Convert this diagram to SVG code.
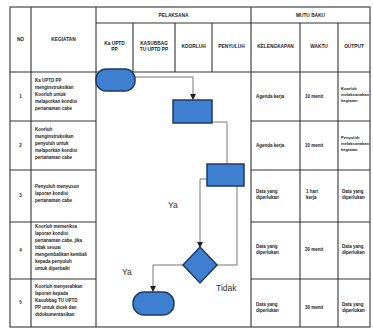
<svg xmlns="http://www.w3.org/2000/svg" width="373" height="329" viewBox="0 0 373 329">
<style>
.grid{stroke:#333;stroke-width:1.1;fill:none}
.h{font-family:"Liberation Sans",Arial,sans-serif;font-size:4.8px;font-weight:bold;fill:#222;text-anchor:middle}
.t{font-family:"Liberation Sans",Arial,sans-serif;font-size:4.5px;font-weight:bold;fill:#222}
.c{text-anchor:middle}
.o{font-size:4.1px}
.lbl{font-family:"Liberation Sans",Arial,sans-serif;font-size:8.5px;fill:#333}
.shape{fill:#3f7fcf;stroke:#1e3a66;stroke-width:1.5}
.conn{stroke:#777;stroke-width:1;fill:none}
</style>
<defs>
<marker id="arr" markerWidth="6" markerHeight="6" refX="5" refY="3" orient="auto" markerUnits="userSpaceOnUse">
<path d="M0,0 L6,3 L0,6 Z" fill="#222"/>
</marker>
</defs>
<rect width="373" height="329" fill="#fff"/>
<g id="table">
<rect class="grid" x="10" y="7" width="360" height="320" stroke-width="1.4"/>
<line class="grid" x1="31" y1="7" x2="31" y2="327"/>
<line class="grid" x1="96" y1="7" x2="96" y2="327"/>
<line class="grid" x1="251" y1="7" x2="251" y2="327"/>
<line class="grid" x1="300" y1="23" x2="300" y2="327"/>
<line class="grid" x1="338" y1="23" x2="338" y2="327"/>
<line class="grid" x1="133" y1="23" x2="133" y2="72"/>
<line class="grid" x1="175" y1="23" x2="175" y2="72"/>
<line class="grid" x1="212" y1="23" x2="212" y2="72"/>
<line class="grid" x1="96" y1="23" x2="370" y2="23"/>
<line class="grid" x1="10" y1="72" x2="370" y2="72"/>
<line class="grid" x1="10" y1="121" x2="96" y2="121"/>
<line class="grid" x1="251" y1="121" x2="370" y2="121"/>
<line class="grid" x1="10" y1="170" x2="96" y2="170"/>
<line class="grid" x1="251" y1="170" x2="370" y2="170"/>
<line class="grid" x1="10" y1="222" x2="96" y2="222"/>
<line class="grid" x1="251" y1="222" x2="370" y2="222"/>
<line class="grid" x1="10" y1="279" x2="96" y2="279"/>
<line class="grid" x1="251" y1="279" x2="370" y2="279"/>
<text class="h" x="20.5" y="41">NO</text>
<text class="h" x="63.5" y="41">KEGIATAN</text>
<text class="h" x="173.5" y="17">PELAKSANA</text>
<text class="h" x="310.5" y="17">MUTU BAKU</text>
<text class="h" x="114.5" y="45">Ka UPTD</text>
<text class="h" x="114.5" y="51">PP</text>
<text class="h" x="154" y="45">KASUBBAG</text>
<text class="h" x="154" y="51">TU UPTD PP</text>
<text class="h" x="193.5" y="48">KOORLUH</text>
<text class="h" x="231.5" y="48">PENYULUH</text>
<text class="h" x="275.5" y="48">KELENGKAPAN</text>
<text class="h" x="319" y="48">WAKTU</text>
<text class="h" x="354" y="48">OUTPUT</text>
<g class="t">
<text class="c" x="20.5" y="98">1</text>
<text class="c" x="20.5" y="147">2</text>
<text class="c" x="20.5" y="197">3</text>
<text class="c" x="20.5" y="252">4</text>
<text class="c" x="20.5" y="304">5</text>
<text x="35" y="82">Ka UPTD PP</text>
<text x="35" y="89">menginstruksikan</text>
<text x="35" y="96">Koorluh untuk</text>
<text x="35" y="103">melaporkan kondisi</text>
<text x="35" y="110">pertanaman cabe</text>
<text x="35" y="131">Koorluh</text>
<text x="35" y="138">menginstruksikan</text>
<text x="35" y="145">penyuluh untuk</text>
<text x="35" y="152">melaporkan kondisi</text>
<text x="35" y="159">pertanaman cabe</text>
<text x="35" y="188">Penyuluh menyusun</text>
<text x="35" y="195">laporan kondisi</text>
<text x="35" y="202">pertanaman cabe</text>
<text x="35" y="228">Koorluh memeriksa</text>
<text x="35" y="235">laporan kondisi</text>
<text x="35" y="242">pertanaman cabe, jika</text>
<text x="35" y="249">tidak sesuai</text>
<text x="35" y="256">mengembalikan kembali</text>
<text x="35" y="263">kepada penyuluh</text>
<text x="35" y="270">untuk diperbaiki</text>
<text x="35" y="288">Koorluh menyerahkan</text>
<text x="35" y="295">laporan kepada</text>
<text x="35" y="302">Kasubbag TU UPTD</text>
<text x="35" y="309">PP untuk dicek dan</text>
<text x="35" y="316">didokumentasikan</text>
<text x="256" y="98">Agenda kerja</text>
<text x="305" y="98">10 menit</text>
<text class="o" x="341" y="90">Koorluh</text>
<text class="o" x="341" y="96">melaksanakan</text>
<text class="o" x="341" y="102">kegiatan</text>
<text x="256" y="147">Agenda kerja</text>
<text x="305" y="147">10 menit</text>
<text class="o" x="341" y="139">Penyuluh</text>
<text class="o" x="341" y="145">melaksanakan</text>
<text class="o" x="341" y="151">kegiatan</text>
<text x="256" y="193">Data yang</text>
<text x="256" y="199">diperlukan</text>
<text x="306" y="193">1 hari</text>
<text x="306" y="199">kerja</text>
<text x="342" y="193">Data yang</text>
<text x="342" y="199">diperlukan</text>
<text x="256" y="248">Data yang</text>
<text x="256" y="254">diperlukan</text>
<text x="305" y="251">30 menit</text>
<text x="342" y="248">Data yang</text>
<text x="342" y="254">diperlukan</text>
<text x="256" y="306">Data yang</text>
<text x="256" y="312">diperlukan</text>
<text x="305" y="309">30 menit</text>
<text x="342" y="306">Data yang</text>
<text x="342" y="312">diperlukan</text>
</g>
</g>
<g id="connectors">
<path class="conn" d="M135,77 H193 V99" marker-end="url(#arr)"/>
<path class="conn" d="M212,122 H227 V164"/>
<path class="conn" d="M207,179 H200 V247" marker-end="url(#arr)"/>
<path class="conn" d="M217,265 H237 V186"/>
<path class="conn" d="M183,265 H153 V291" marker-end="url(#arr)"/>
<text class="lbl" x="168" y="208">Ya</text>
<text class="lbl" x="122" y="275">Ya</text>
<text class="lbl" x="216" y="291">Tidak</text>
</g>
<g id="start"><rect class="shape" x="96" y="69" width="39" height="22" rx="10"/></g>
<g id="step1"><rect class="shape" x="173" y="100" width="39" height="23"/></g>
<g id="step2"><rect class="shape" x="207" y="164" width="37" height="22"/></g>
<g id="decision"><polygon class="shape" points="200,247 217,265 200,283 183,265"/></g>
<g id="end"><rect class="shape" x="133" y="292" width="41" height="23" rx="11"/></g>
</svg>
